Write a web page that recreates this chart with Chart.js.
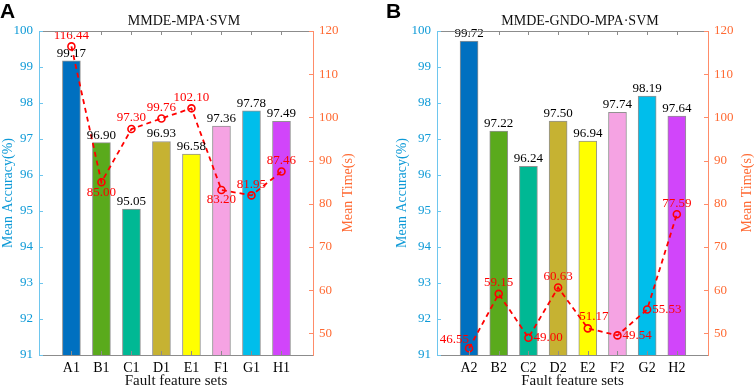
<!DOCTYPE html>
<html><head><meta charset="utf-8">
<script src="https://cdn.jsdelivr.net/npm/chart.js@4.4.0/dist/chart.umd.min.js"></script>
<style>
html,body{margin:0;padding:0;background:#fff;width:754px;height:386px;overflow:hidden}
.panel{position:absolute;top:0;width:377px;height:386px}
.tag{position:absolute;font:bold 21px "Liberation Sans",Arial,sans-serif;color:#000;line-height:21px}
</style></head><body>
<div class="panel" style="left:0"><canvas id="cA" width="377" height="386"></canvas></div>
<div class="panel" style="left:377px"><canvas id="cB" width="377" height="386"></canvas></div>
<div class="tag" style="left:0;top:0">A</div>
<div class="tag" style="left:386px;top:0">B</div>
<script>
// ---- data ----
const categoriesA = ['A1','B1','C1','D1','E1','F1','G1','H1'];
const accuracyA   = [99.17, 96.90, 95.05, 96.93, 96.58, 97.36, 97.78, 97.49];
const timeA       = [116.44, 85.00, 97.30, 99.76, 102.10, 83.20, 81.95, 87.46];
const categoriesB = ['A2','B2','C2','D2','E2','F2','G2','H2'];
const accuracyB   = [99.72, 97.22, 96.24, 97.50, 96.94, 97.74, 98.19, 97.64];
const timeB       = [46.55, 59.15, 49.00, 60.63, 51.17, 49.54, 55.53, 77.59];
const accuracyTicks = [91, 92, 93, 94, 95, 96, 97, 98, 99, 100];
const timeTicks     = [50, 60, 70, 80, 90, 100, 110, 120];
// ---- label placement hints (style, not data) ----
const timeLabelPlaceA = ['above','below','above','above','above','below','above','above'];
const timeLabelPlaceB = ['upleft','above','right','above','upright','right','right','above'];

const barColors = ['#0070C0','#5AAA1C','#00B894','#C6B232','#FFFF00','#F5A3E3','#00BEEB','#D145FA'];
const SERIF = '"Liberation Serif","Times New Roman",serif';
const BLUE = '#0E9AD7', BLUE_AX = '#6EC6EE', ORANGE = '#FF6A33', ORANGE_AX = '#FF8C69';
Chart.defaults.font.family = SERIF;

const decor = {
  id: 'decor',
  afterDatasetsDraw(chart, args, o) {
    const ctx = chart.ctx;
    ctx.save();
    const bm = chart.getDatasetMeta(0);
    ctx.font = '13px ' + SERIF; ctx.fillStyle = '#000';
    ctx.textAlign = 'center'; ctx.textBaseline = 'bottom';
    bm.data.forEach((el, i) => {
      const v = o.acc[i];
      ctx.fillText(v.toFixed(2), el.x, el.y - 1);
    });
    const lm = chart.getDatasetMeta(1);
    ctx.fillStyle = '#FF0000'; ctx.textBaseline = 'middle';
    lm.data.forEach((el, i) => {
      const v = o.time[i];
      const p = o.place[i];
      let x = el.x, y = el.y, al = 'center';
      if (p === 'above') y -= 11;
      else if (p === 'below') y += 10;
      else if (p === 'right') { x += 5; al = 'left'; }
      else if (p === 'upleft') { y -= 9; al = 'right'; }
      else if (p === 'upright') { x += 6; y -= 12; }
      ctx.textAlign = al;
      ctx.fillText(v.toFixed(2), x, y);
    });
    ctx.restore();
  },
  afterDraw(chart, args, o) {
    const ctx = chart.ctx, a = chart.chartArea;
    const xs = chart.scales.x, ys = chart.scales.y, y1 = chart.scales.y1;
    ctx.save();
    ctx.lineWidth = 1;
    ctx.strokeStyle = '#8c8c8c';
    ctx.beginPath();
    ctx.moveTo(a.left, a.top + 0.5); ctx.lineTo(a.right, a.top + 0.5);
    ctx.moveTo(a.left, a.bottom + 0.5); ctx.lineTo(a.right, a.bottom + 0.5);
    for (let i = 1; i <= o.acc.length; i++) {
      const px = Math.round(xs.getPixelForValue(i)) + 0.5;
      ctx.moveTo(px, a.top); ctx.lineTo(px, a.top + 4);
      ctx.moveTo(px, a.bottom); ctx.lineTo(px, a.bottom - 4);
    }
    ctx.stroke();
    ctx.strokeStyle = BLUE_AX;
    ctx.beginPath();
    ctx.moveTo(a.left + 0.5, a.top); ctx.lineTo(a.left + 0.5, a.bottom + 1);
    ys.ticks.forEach(t => { const py = Math.round(ys.getPixelForValue(t.value)) + 0.5; ctx.moveTo(a.left, py); ctx.lineTo(a.left + 4, py); });
    ctx.stroke();
    ctx.strokeStyle = ORANGE_AX;
    ctx.beginPath();
    ctx.moveTo(a.right + 0.5, a.top); ctx.lineTo(a.right + 0.5, a.bottom + 1);
    y1.ticks.forEach(t => { const py = Math.round(y1.getPixelForValue(t.value)) + 0.5; ctx.moveTo(a.right, py); ctx.lineTo(a.right - 4, py); });
    ctx.stroke();
    ctx.fillStyle = '#111'; ctx.font = '14px ' + SERIF;
    ctx.textAlign = 'center'; ctx.textBaseline = 'middle';
    ctx.fillText(o.title, o.titleX, 21);
    ctx.font = '15px ' + SERIF;
    ctx.fillText('Fault feature sets', (a.left + a.right) / 2, 381);
    const cy = (a.top + a.bottom) / 2;
    ctx.font = '14px ' + SERIF;
    ctx.save(); ctx.translate(o.leftTitleX, cy); ctx.rotate(-Math.PI / 2);
    ctx.fillStyle = BLUE; ctx.fillText('Mean Accuracy(%)', 0, 0); ctx.restore();
    ctx.save(); ctx.translate(o.rightTitleX, cy); ctx.rotate(-Math.PI / 2);
    ctx.fillStyle = ORANGE; ctx.fillText('Mean Time(s)', 0, 0); ctx.restore();
    ctx.restore();
  }
};

function makeChart(id, cats, acc, time, place, geo) {
  new Chart(document.getElementById(id), {
    data: {
      datasets: [
        { type: 'bar', data: acc.map((v, i) => ({ x: i + 1, y: v })), yAxisID: 'y', order: 2,
          backgroundColor: barColors,
          borderColor: 'rgba(110,110,110,0.75)', borderWidth: 1, barThickness: 18, borderSkipped: 'bottom' },
        { type: 'line', data: time.map((v, i) => ({ x: i + 1, y: v })), yAxisID: 'y1', order: 1,
          borderColor: '#FF0000', borderWidth: 1.8, borderDash: [5, 4], fill: false, tension: 0,
          pointStyle: 'circle', pointRadius: 3.5, pointBorderWidth: 1.6,
          pointBorderColor: '#FF0000', pointBackgroundColor: 'rgba(255,255,255,0)' }
      ]
    },
    options: {
      responsive: false, animation: false, devicePixelRatio: 1,
      layout: { padding: { top: 31, left: 0, right: 0, bottom: 0 } },
      plugins: { legend: { display: false }, tooltip: { enabled: false }, title: { display: false },
        decor: { acc, time, place, title: geo.title, titleX: geo.titleX, leftTitleX: geo.leftTitleX, rightTitleX: geo.rightTitleX } },
      scales: {
        x: { type: 'linear', min: -0.08, max: 9.05, offset: false,
             grid: { display: false, drawTicks: false }, border: { display: false },
             afterBuildTicks: s => { s.ticks = cats.map((c, i) => ({ value: i + 1 })); },
             ticks: { autoSkip: false, maxRotation: 0, padding: 5, color: '#000', font: { size: 14, family: SERIF },
                      callback: v => cats[v - 1] },
             afterFit: s => { s.height = 31; } },
        y: { position: 'left', min: 91, max: 100, grid: { display: false, drawTicks: false }, border: { display: false },
             afterBuildTicks: s => { s.ticks = accuracyTicks.map(v => ({ value: v })); },
             ticks: { padding: 6, color: BLUE, font: { size: 13, family: SERIF } },
             afterFit: s => { s.width = geo.leftW; } },
        y1: { position: 'right', min: 45, max: 120, grid: { display: false, drawTicks: false }, border: { display: false },
             afterBuildTicks: s => { s.ticks = timeTicks.map(v => ({ value: v })); },
             ticks: { padding: 6, color: ORANGE, font: { size: 13, family: SERIF } },
             afterFit: s => { s.width = geo.rightW; } }
      }
    },
    plugins: [decor]
  });
}

makeChart('cA', categoriesA, accuracyA, timeA, timeLabelPlaceA,
  { title: 'MMDE-MPA·SVM', titleX: 184, leftW: 39, rightW: 64, leftTitleX: 8, rightTitleX: 348 });
makeChart('cB', categoriesB, accuracyB, timeB, timeLabelPlaceB,
  { title: 'MMDE-GNDO-MPA·SVM', titleX: 203, leftW: 60, rightW: 46, leftTitleX: 25, rightTitleX: 370 });
</script>
</body></html>
